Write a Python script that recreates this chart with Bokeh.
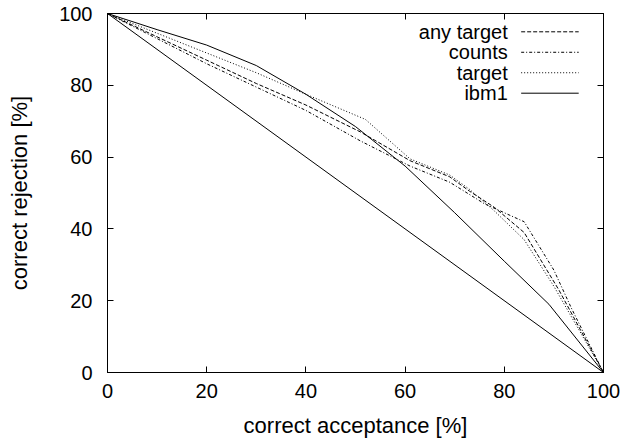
from bokeh.plotting import figure
from bokeh.models import Range1d, LinearAxis, SingleIntervalTicker, Label, CustomJSTickFormatter
from bokeh.embed import file_html
from bokeh.resources import INLINE

# ---- data ----
any_target_x = [0, 10, 20, 30, 40, 51, 61, 69, 73, 78, 84, 91, 100]
any_target_y = [100, 93.5, 87, 80.5, 74.5, 67, 59, 54.5, 50.5, 46, 39, 23, 0]

counts_x = [0, 10, 20, 30, 40, 51, 61, 69, 76, 84, 90, 93.5, 100]
counts_y = [100, 93, 86, 79.5, 73, 64.5, 57.5, 53, 47, 42, 28.5, 18, 0]

target_x = [0, 10, 20, 30, 40, 52, 61, 69, 73, 78, 84, 90, 100]
target_y = [100, 94.5, 89, 83.5, 77.5, 70.5, 59.5, 55, 51, 45, 37, 24, 0]

ibm1_x = [0, 10, 20, 30, 40, 50, 60, 70, 80, 89, 100]
ibm1_y = [100, 95.5, 91.2, 85.5, 77.5, 68.5, 57.5, 44.5, 31, 19, 0]

chance_x = [0, 100]
chance_y = [100, 0]

series_names = ["any target", "counts", "target", "ibm1"]
series_dash = ["4 2", "3 2 1 2", "1 2", "solid"]

FONT = "Liberation Sans"
FS = "20px"
FS_LABEL = "22px"

p = figure(width=625, height=440, output_backend="svg", toolbar_location=None,
           x_range=Range1d(0, 100), y_range=Range1d(0, 100),
           min_border_left=107, min_border_right=22, min_border_top=13, min_border_bottom=67,
           x_axis_label="correct acceptance [%]", y_axis_label="correct rejection [%]")
p.background_fill_color = "white"
p.border_fill_color = "white"
p.outline_line_color = "black"
p.outline_line_width = 1
p.xgrid.visible = False
p.ygrid.visible = False

for ax in list(p.xaxis) + list(p.yaxis):
    ax.ticker = SingleIntervalTicker(interval=20, num_minor_ticks=0)
    ax.major_tick_in = 6
    ax.major_tick_out = 0
    ax.minor_tick_in = 0
    ax.minor_tick_out = 0
    ax.axis_line_color = "black"
    ax.major_tick_line_color = "black"
    ax.major_label_text_font = FONT
    ax.major_label_text_font_size = FS
    ax.major_label_text_color = "black"
    ax.axis_label_text_font = FONT
    ax.axis_label_text_font_size = FS_LABEL
    ax.axis_label_text_font_style = "normal"
    ax.axis_label_text_color = "black"

p.xaxis.major_label_standoff = 11
p.xaxis.axis_label_standoff = 12
p.yaxis.major_label_standoff = 15
p.yaxis.axis_label_standoff = 24

# mirror ticks
for loc in ["above", "right"]:
    ax = LinearAxis(ticker=SingleIntervalTicker(interval=20, num_minor_ticks=0),
                    formatter=CustomJSTickFormatter(code="return ''"),
                    major_tick_in=6, major_tick_out=0, minor_tick_in=0, minor_tick_out=0,
                    major_label_standoff=0, major_label_text_font_size="0px",
                    axis_line_color="black", major_tick_line_color="black")
    p.add_layout(ax, loc)

# chance diagonal
p.line(chance_x, chance_y, line_color="black", line_width=1)

xs = [any_target_x, counts_x, target_x, ibm1_x]
ys = [any_target_y, counts_y, target_y, ibm1_y]
for x, y, dash in zip(xs, ys, series_dash):
    p.line(x, y, line_color="black", line_width=1, line_dash=dash)

# gnuplot-style key (text right-aligned, sample to the right)
key_text_x = 80.7
key_x0, key_x1 = 83.4, 95.0
key_rows = [94.9, 89.2, 83.5, 77.8]
for name, dash, ky in zip(series_names, series_dash, key_rows):
    p.add_layout(Label(x=key_text_x, y=ky, text=name, text_align="right", text_baseline="middle",
                       text_font=FONT, text_font_size=FS, text_color="black"))
    p.line([key_x0, key_x1], [ky, ky], line_color="black", line_width=1, line_dash=dash)

open("out.html", "w").write(file_html(p, INLINE))
